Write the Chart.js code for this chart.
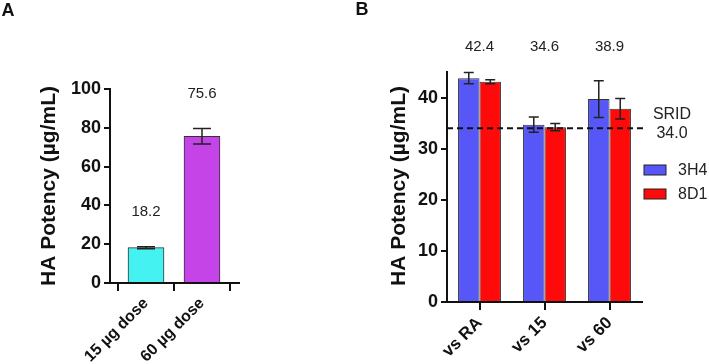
<!DOCTYPE html>
<html>
<head>
<meta charset="utf-8">
<script src="https://cdn.jsdelivr.net/npm/chart.js@4"></script>
<style>
  html, body { margin: 0; padding: 0; background: #fff; }
  #wrap { position: relative; width: 709px; height: 364px; overflow: hidden; }
  #ca { position: absolute; left: 0; top: 0; }
  #cb { position: absolute; left: 250px; top: 0; }
</style>
</head>
<body>
<div id="wrap">
  <canvas id="ca" width="250" height="364"></canvas>
  <canvas id="cb" width="459" height="364"></canvas>
</div>
<script>
// ---------- data ----------
const aCategories = ['15 µg dose', '60 µg dose'];
const aValues = [18.2, 75.6];
const aErrors = [0.5, 4.0];
const aValueLabels = ['18.2', '75.6'];
const aYTicks = [0, 20, 40, 60, 80, 100];

const bCategories = ['vs RA', 'vs 15', 'vs 60'];
const bSeriesNames = ['3H4', '8D1'];
const b3H4 = [43.8, 34.7, 39.7];
const b3H4Err = [1.1, 1.5, 3.6];
const b8D1 = [43.1, 34.2, 37.8];
const b8D1Err = [0.4, 0.7, 2.0];
const bValueLabels = ['42.4', '34.6', '38.9'];
const bYTicks = [0, 10, 20, 30, 40];
const sridValue = 34.0;
const sridLabel = ['SRID', '34.0'];

const yTitle = 'HA Potency (µg/mL)';
const FONT = '"Liberation Sans", Arial, Helvetica, sans-serif';
const INK = '#111';

Chart.defaults.font.family = FONT;
Chart.defaults.color = INK;
Chart.defaults.animation = false;

// ---------- plugins ----------
const errorBars = {
  id: 'errorBars',
  afterDatasetsDraw(chart, args, opts) {
    const ctx = chart.ctx, ys = chart.scales.y;
    chart.data.datasets.forEach((ds, i) => {
      const meta = chart.getDatasetMeta(i);
      (ds.errors || []).forEach((e, j) => {
        const el = meta.data[j];
        const v = ds.data[j].y !== undefined ? ds.data[j].y : ds.data[j];
        const top = ys.getPixelForValue(v + e), bot = ys.getPixelForValue(v - e);
        ctx.save();
        ctx.strokeStyle = '#222';
        ctx.lineWidth = 1.5;
        ctx.beginPath();
        ctx.moveTo(el.x, top); ctx.lineTo(el.x, bot);
        ctx.moveTo(el.x - opts.cap, top); ctx.lineTo(el.x + opts.cap, top);
        ctx.moveTo(el.x - opts.cap, bot); ctx.lineTo(el.x + opts.cap, bot);
        ctx.stroke();
        ctx.restore();
      });
    });
  }
};

const extras = {
  id: 'extras',
  afterDraw(chart, args, o) {
    const ctx = chart.ctx, ca = chart.chartArea, ys = chart.scales.y, xs = chart.scales.x;
    ctx.save();
    // panel letter
    ctx.fillStyle = INK;
    ctx.font = 'bold 18px ' + FONT;
    ctx.textAlign = 'center'; ctx.textBaseline = 'middle';
    ctx.fillText(o.letter, o.letterX, o.letterY);
    // y title (rotated)
    ctx.save();
    ctx.translate(o.titleX, o.titleY);
    ctx.rotate(-Math.PI / 2);
    ctx.font = 'bold ' + o.titleSize + 'px ' + FONT;
    ctx.fillText(yTitle, 0, 0);
    ctx.restore();
    // value labels
    ctx.font = '15px ' + FONT;
    ctx.fillStyle = '#222';
    if (o.mode === 'A') {
      const meta = chart.getDatasetMeta(0);
      aValues.forEach((v, i) => {
        const y = ys.getPixelForValue(v + aErrors[i]) - 35;
        ctx.fillText(aValueLabels[i], meta.data[i].x, y);
      });
    } else {
      bCategories.forEach((c, i) => {
        ctx.fillText(bValueLabels[i], xs.getPixelForValue(i), ca.top - 25);
      });
      // SRID reference line
      const yy = ys.getPixelForValue(sridValue);
      ctx.strokeStyle = INK; ctx.lineWidth = 2; ctx.setLineDash([6, 4]);
      ctx.beginPath(); ctx.moveTo(ca.left, yy); ctx.lineTo(ca.right + 5, yy); ctx.stroke();
      ctx.setLineDash([]);
      ctx.font = '16px ' + FONT;
      ctx.fillText(sridLabel[0], ca.right + 30, yy - 14);
      ctx.fillText(sridLabel[1], ca.right + 30, yy + 5);
      // legend
      chart.data.datasets.forEach((ds, i) => {
        const cy = 170 + i * 24;
        ctx.fillStyle = ds.backgroundColor;
        ctx.fillRect(ca.right + 2, cy - 5, 22, 10);
        ctx.strokeStyle = '#222'; ctx.lineWidth = 1;
        ctx.strokeRect(ca.right + 2, cy - 5, 22, 10);
        ctx.fillStyle = '#222';
        ctx.textAlign = 'left';
        ctx.fillText(ds.label, ca.right + 36, cy + 1);
        ctx.textAlign = 'center';
      });
    }
    ctx.restore();
  }
};

const axisStyle = {
  border: { display: true, color: INK, width: 2 },
  grid: { drawOnChartArea: false, drawTicks: true, color: INK, lineWidth: 2 }
};

// ---------- chart A ----------
new Chart(document.getElementById('ca'), {
  type: 'bar',
  data: {
    datasets: [{
      data: aValues.map((v, i) => ({ x: i, y: v })),
      errors: aErrors,
      backgroundColor: ['#44F3F1', '#C444E8'],
      borderColor: '#333',
      borderWidth: 1,
      barThickness: 36
    }]
  },
  options: {
    responsive: false,
    layout: { padding: { top: 89, right: 11, bottom: 0, left: 0 } },
    plugins: {
      legend: { display: false }, tooltip: { enabled: false },
      errorBars: { cap: 9 },
      extras: { mode: 'A', letter: 'A', letterX: 8, letterY: 11, titleX: 49, titleY: 186, titleSize: 21 }
    },
    scales: {
      x: {
        type: 'linear', min: -0.643, max: 1.661, offset: false,
        afterBuildTicks: s => { s.ticks = aCategories.map((_, i) => ({ value: i })); },
        afterFit: s => { s.height = 81; },
        ticks: {
          autoSkip: false, maxRotation: 45, minRotation: 45, padding: 3,
          font: { size: 16, weight: 'bold' },
          callback: v => aCategories[v]
        },
        border: axisStyle.border,
        grid: Object.assign({}, axisStyle.grid, { tickLength: 8 })
      },
      y: {
        min: 0, max: 100,
        afterBuildTicks: s => { s.ticks = aYTicks.map(v => ({ value: v })); },
        afterFit: s => { s.width = 110; },
        ticks: { font: { size: 18, weight: 'bold' }, padding: 3 },
        border: axisStyle.border,
        grid: Object.assign({}, axisStyle.grid, { tickLength: 6 })
      }
    }
  },
  plugins: [errorBars, extras]
});

// ---------- chart B ----------
new Chart(document.getElementById('cb'), {
  type: 'bar',
  data: {
    labels: bCategories,
    datasets: [
      { label: bSeriesNames[0], data: b3H4, errors: b3H4Err, backgroundColor: '#5757F7', borderColor: '#333', borderWidth: 1 },
      { label: bSeriesNames[1], data: b8D1, errors: b8D1Err, backgroundColor: '#FF0A0A', borderColor: '#333', borderWidth: 1 }
    ]
  },
  options: {
    responsive: false,
    datasets: { bar: { categoryPercentage: 0.66, barPercentage: 1.0 } },
    layout: { padding: { top: 72, right: 67, bottom: 0, left: 0 } },
    plugins: {
      legend: { display: false }, tooltip: { enabled: false },
      errorBars: { cap: 5 },
      extras: { mode: 'B', letter: 'B', letterX: 112, letterY: 10, titleX: 149, titleY: 186, titleSize: 21 }
    },
    scales: {
      x: {
        afterFit: s => { s.height = 62; },
        ticks: { autoSkip: false, maxRotation: 45, minRotation: 45, padding: 3, font: { size: 17, weight: 'bold' } },
        border: axisStyle.border,
        grid: Object.assign({}, axisStyle.grid, { offset: false, tickLength: 8 })
      },
      y: {
        min: 0, max: 45,
        afterBuildTicks: s => { s.ticks = bYTicks.map(v => ({ value: v })); },
        afterFit: s => { s.width = 197; },
        ticks: { font: { size: 18, weight: 'bold' }, padding: 3 },
        border: axisStyle.border,
        grid: Object.assign({}, axisStyle.grid, { tickLength: 6 })
      }
    }
  },
  plugins: [errorBars, extras]
});
</script>
</body>
</html>
